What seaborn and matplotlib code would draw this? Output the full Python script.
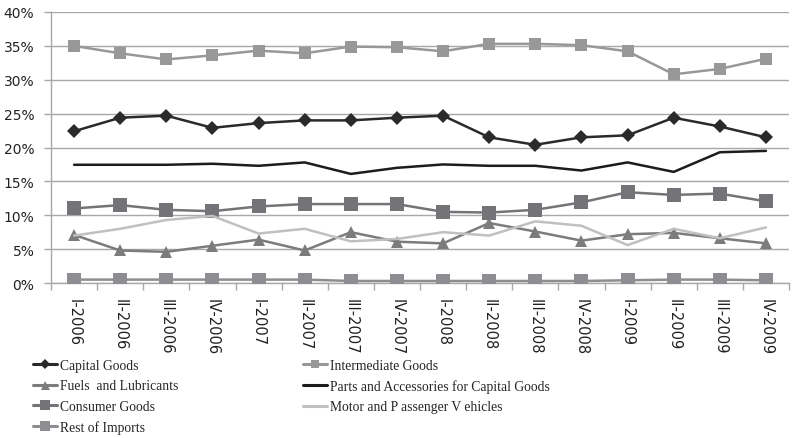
import matplotlib
matplotlib.use("Agg")
import matplotlib.pyplot as plt
import seaborn as sns
import pandas as pd
import numpy as np
from matplotlib.ticker import FixedLocator, PercentFormatter
from matplotlib.lines import Line2D

quarters = ["I-2006", "II-2006", "III-2006", "IV-2006",
            "I-2007", "II-2007", "III-2007", "IV-2007",
            "I-2008", "II-2008", "III-2008", "IV-2008",
            "I-2009", "II-2009", "III-2009", "IV-2009"]

capital_goods = [22.4, 24.4, 24.7, 22.9, 23.6, 24.0, 24.0, 24.4,
                 24.7, 21.5, 20.4, 21.5, 21.8, 24.4, 23.1, 21.5]
intermediate_goods = [35.0, 33.9, 33.0, 33.6, 34.3, 33.9, 34.9, 34.8,
                      34.2, 35.3, 35.3, 35.1, 34.2, 30.8, 31.6, 33.1]
fuels_lubricants = [7.1, 4.8, 4.6, 5.5, 6.4, 4.8, 7.5, 6.1,
                    5.85, 8.85, 7.6, 6.25, 7.2, 7.4, 6.6, 5.85]
parts_accessories = [17.45, 17.45, 17.45, 17.6, 17.3, 17.8, 16.1, 17.0,
                     17.5, 17.3, 17.3, 16.6, 17.8, 16.4, 19.3, 19.5]
consumer_goods = [11.0, 11.5, 10.8, 10.6, 11.3, 11.65, 11.65, 11.65,
                  10.5, 10.4, 10.8, 11.9, 13.4, 13.0, 13.2, 12.05]
motor_vehicles = [7.0, 8.0, 9.3, 9.9, 7.3, 8.0, 6.15, 6.5,
                  7.5, 7.0, 9.1, 8.45, 5.6, 8.0, 6.6, 8.2]
rest_of_imports = [0.5, 0.5, 0.5, 0.5, 0.5, 0.5, 0.3, 0.3,
                   0.3, 0.3, 0.3, 0.3, 0.4, 0.5, 0.5, 0.4]

series = [
    ("Capital Goods", capital_goods, dict(color="#2a2a2a", marker="D", markersize=7.5, lw=1.8)),
    ("Intermediate Goods", intermediate_goods, dict(color="#989898", marker="s", markersize=8.5, lw=1.8)),
    ("Fuels  and Lubricants", fuels_lubricants, dict(color="#7c7c7c", marker="^", markersize=9, lw=1.8)),
    ("Parts and Accessories for Capital Goods", parts_accessories, dict(color="#1c1c1c", marker=None, markersize=0, lw=1.8)),
    ("Consumer Goods", consumer_goods, dict(color="#737378", marker="s", markersize=10, lw=1.8)),
    ("Motor and P assenger V ehicles", motor_vehicles, dict(color="#c0c0c0", marker=None, markersize=0, lw=1.8)),
    ("Rest of Imports", rest_of_imports, dict(color="#8d8d92", marker="s", markersize=10.5, lw=1.8)),
]

sns.set_theme(style="white")
plt.rcParams["font.family"] = ["DejaVu Sans"]

W, H = 793, 439
fig = plt.figure(figsize=(W / 100, H / 100), dpi=100)
ax = fig.add_axes([51 / W, 1 - 284 / H, (789 - 51) / W, (284 - 13) / H])

x = np.arange(len(quarters))
handles = {}
for name, vals, st in series:
    df = pd.DataFrame({"x": x, "y": vals})
    sns.lineplot(data=df, x="x", y="y", ax=ax, color=st["color"], linewidth=st["lw"],
                 marker=st["marker"] if st["marker"] else None,
                 markersize=st["markersize"], markeredgewidth=0, legend=False,
                 zorder=3)
    handles[name] = ax.get_lines()[-1]

ax.set_xlim(-0.5, len(quarters) - 0.5)
ax.set_ylim(0, 40)
ax.yaxis.set_major_locator(FixedLocator([0, 5, 10, 15, 20, 25, 30, 35, 40]))
ax.yaxis.set_major_formatter(PercentFormatter(decimals=0))
ax.grid(axis="y", color="#a8a8a8", linewidth=1.0, zorder=0)
ax.grid(axis="x", visible=False)
for s in ["top", "right"]:
    ax.spines[s].set_visible(False)
for s in ["left", "bottom"]:
    ax.spines[s].set_color("#a8a8a8")
    ax.spines[s].set_linewidth(1.0)

ax.set_xticks(x)
ax.set_xticklabels(quarters, rotation=-90, fontsize=10.5, color="#222222")
ax.set_xticks(np.arange(-0.5, len(quarters)), minor=True)
ax.tick_params(axis="x", which="major", length=0, pad=11)
ax.tick_params(axis="x", which="minor", length=5, color="#a8a8a8", width=1, direction="out", bottom=True)
ax.tick_params(axis="y", which="major", length=5, color="#a8a8a8", width=1, labelsize=10,
               labelcolor="#222222", left=True, pad=7)
ax.set_xlabel("")
ax.set_ylabel("")

col1 = ["Capital Goods", "Fuels  and Lubricants", "Consumer Goods", "Rest of Imports"]
col2 = ["Intermediate Goods", "Parts and Accessories for Capital Goods", "Motor and P assenger V ehicles"]


def make_handles(names):
    out = []
    for name in names:
        ln = handles[name]
        out.append(Line2D([0], [0], color=ln.get_color(), lw=2.2,
                          marker=ln.get_marker(), markersize=ln.get_markersize() * 0.72,
                          markeredgewidth=0))
    return out


legkw = dict(loc="upper left", frameon=False, handlelength=1.75, handletextpad=0.2,
             labelspacing=0.54, borderpad=0, borderaxespad=0,
             prop={"family": "Liberation Serif", "size": 9.8})
leg1 = fig.legend(make_handles(col1), col1, bbox_to_anchor=(33 / W, 1 - 360 / H), **legkw)
leg2 = fig.legend(make_handles(col2), col2, bbox_to_anchor=(303 / W, 1 - 360 / H), **legkw)

fig.savefig("out.png", dpi=100)
